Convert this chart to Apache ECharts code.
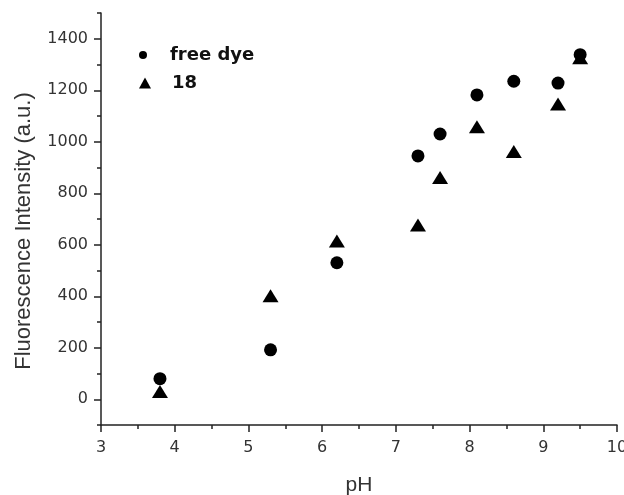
<!DOCTYPE html>
<html>
<head>
<meta charset="utf-8">
<script src="https://cdn.jsdelivr.net/npm/echarts@6/dist/echarts.min.js"></script>
<style>
  html, body { margin: 0; padding: 0; background: #fff; }
  #chart { width: 624px; height: 495px; }
</style>
</head>
<body>
<div id="chart"></div>
<script>
// values
var phValues = [3.8, 5.3, 6.2, 7.3, 7.6, 8.1, 8.6, 9.2, 9.5];
var freeDye = [80, 192, 530, 945, 1030, 1182, 1235, 1228, 1338];
var dye18 = [30, 402, 615, 677, 861, 1058, 962, 1147, 1326];
var yLabels = [0, 200, 400, 600, 800, 1000, 1200, 1400];
var yMinor = [-100, 100, 300, 500, 700, 900, 1100, 1300, 1500];
var xMinor = [3.5, 4.5, 5.5, 6.5, 7.5, 8.5, 9.5];

function pairs(xs, ys) {
  var out = [];
  for (var i = 0; i < xs.length; i++) out.push([xs[i], ys[i]]);
  return out;
}

var chart = echarts.init(document.getElementById('chart'));
var font = 'DejaVu Sans, Liberation Sans, sans-serif';
var nameFont = 'Liberation Sans, Arial, sans-serif';
var lineCol = '#222';

var option = {
  animation: false,
  backgroundColor: '#fff',
  grid: [
    { left: 101, right: 7, top: 13, bottom: 70, outerBoundsMode: 'none' },
    { left: 101, right: 7, top: 13, bottom: 70, outerBoundsMode: 'none' }
  ],
  legend: [
    {
      data: ['free dye'],
      left: 139, top: 46, padding: 0,
      itemWidth: 8, itemHeight: 8, itemGap: 0,
      icon: 'circle',
      textStyle: { fontFamily: font, fontSize: 18, fontWeight: 'bold', color: '#111', padding: [0, 0, 0, 18] }
    },
    {
      data: ['18'],
      left: 139, top: 74, padding: 0,
      itemWidth: 12, itemHeight: 11, itemGap: 0,
      icon: 'triangle',
      textStyle: { fontFamily: font, fontSize: 18, fontWeight: 'bold', color: '#111', padding: [0, 0, 0, 16] }
    }
  ],
  xAxis: [
    {
      type: 'value', gridIndex: 0,
      min: 3, max: 10, interval: 1,
      name: 'pH', nameLocation: 'middle', nameGap: 50,
      nameTextStyle: { fontFamily: nameFont, fontSize: 21, color: '#333' },
      axisLine: { show: true, onZero: false, lineStyle: { color: lineCol, width: 1.5 } },
      axisTick: { show: true, inside: false, length: 7, lineStyle: { color: lineCol, width: 1.5 } },
      axisLabel: { fontFamily: font, fontSize: 16, color: '#333', margin: 15, formatter: function (v) { return String(v); } },
      splitLine: { show: false }
    },
    {
      type: 'value', gridIndex: 1,
      min: 3, max: 10,
      axisLine: { show: false, onZero: false },
      axisTick: { show: true, length: 4, customValues: xMinor, lineStyle: { color: lineCol, width: 1.5 } },
      axisLabel: { show: false },
      splitLine: { show: false }
    }
  ],
  yAxis: [
    {
      type: 'value', gridIndex: 0,
      min: -100, max: 1500,
      name: 'Fluorescence Intensity (a.u.)', nameLocation: 'middle', nameGap: 66,
      nameTextStyle: { fontFamily: nameFont, fontSize: 22, color: '#333', padding: [0, 24, 0, 0] },
      axisLine: { show: true, onZero: false, lineStyle: { color: lineCol, width: 1.5 } },
      axisTick: { show: true, length: 7, customValues: yLabels, lineStyle: { color: lineCol, width: 1.5 } },
      axisLabel: { fontFamily: font, fontSize: 16, color: '#333', margin: 13, customValues: yLabels, formatter: function (v) { return String(v); } },
      splitLine: { show: false }
    },
    {
      type: 'value', gridIndex: 1,
      min: -100, max: 1500,
      axisLine: { show: false, onZero: false },
      axisTick: { show: true, length: 4, customValues: yMinor, lineStyle: { color: lineCol, width: 1.5 } },
      axisLabel: { show: false },
      splitLine: { show: false }
    }
  ],
  series: [
    {
      name: 'free dye', type: 'scatter', xAxisIndex: 0, yAxisIndex: 0,
      symbol: 'circle', symbolSize: 13,
      itemStyle: { color: '#000', opacity: 1 },
      data: pairs(phValues, freeDye)
    },
    {
      name: '18', type: 'scatter', xAxisIndex: 0, yAxisIndex: 0,
      symbol: 'triangle', symbolSize: [16, 13],
      itemStyle: { color: '#000', opacity: 1 },
      data: pairs(phValues, dye18)
    }
  ]
};
chart.setOption(option);
</script>
</body>
</html>
